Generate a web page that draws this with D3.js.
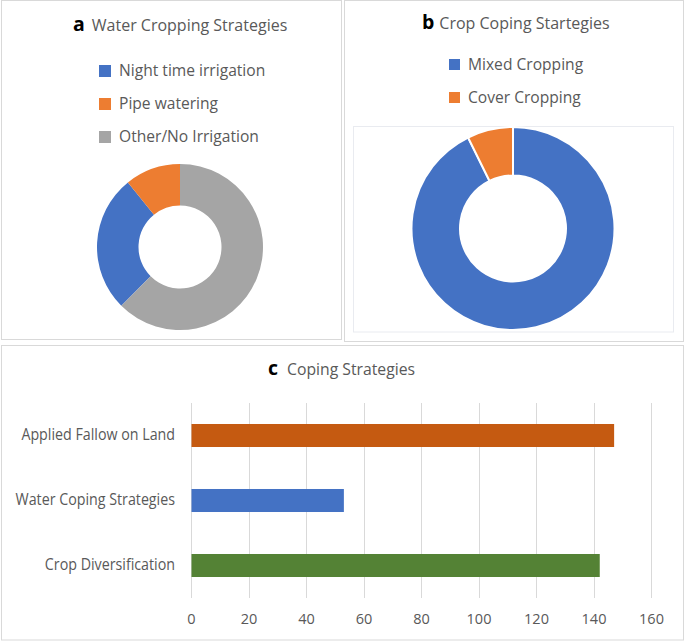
<!DOCTYPE html>
<html>
<head>
<meta charset="utf-8">
<script src="https://cdn.jsdelivr.net/npm/d3@7"></script>
<style>
  html, body { margin: 0; padding: 0; background: #fff; }
  svg text { font-family: "Open Sans", "Noto Sans", sans-serif; }
</style>
</head>
<body>
<svg id="chart" width="685" height="643"></svg>
<script>
// ---- Data ----
const waterCategories = ["Night time irrigation", "Pipe watering", "Other/No Irrigation"];
const waterValues = [26.7, 10.8, 62.5];
const waterColors = ["#4472C4", "#ED7D31", "#A5A5A5"];

const cropCategories = ["Mixed Cropping", "Cover Cropping"];
const cropValues = [92.7, 7.3];
const cropColors = ["#4472C4", "#ED7D31"];

const copingCategories = ["Applied Fallow on Land", "Water Coping Strategies", "Crop Diversification"];
const copingValues = [147, 53, 142];
const copingColors = ["#C55A11", "#4472C4", "#548235"];
const copingTicks = [0, 20, 40, 60, 80, 100, 120, 140, 160];

const svg = d3.select("#chart");
const txtGray = "#595959";
const border = "#D9D9D9";

svg.append("rect").attr("width", 685).attr("height", 643).attr("fill", "#fff");

// Panel frames
svg.append("rect").attr("x", 1.5).attr("y", 0.5).attr("width", 340).attr("height", 339)
  .attr("fill", "none").attr("stroke", border);
svg.append("rect").attr("x", 344.5).attr("y", 0.5).attr("width", 339).attr("height", 341)
  .attr("fill", "none").attr("stroke", border);
svg.append("rect").attr("x", 353.5).attr("y", 126.5).attr("width", 320).attr("height", 205.5)
  .attr("fill", "none").attr("stroke", "#E9EBF0");
svg.append("rect").attr("x", 1.5).attr("y", 345.5).attr("width", 682).attr("height", 294.5)
  .attr("fill", "none").attr("stroke", border);

function title(x, y, letter, text, letterSize, textSize, gap) {
  const t = svg.append("text").attr("x", x).attr("y", y);
  t.append("tspan").text(letter).attr("font-weight", "bold").attr("fill", "#000")
    .attr("font-size", letterSize);
  t.append("tspan").text(text).attr("fill", txtGray).attr("font-size", textSize).attr("dx", gap);
  return t;
}

// ---- Panel a ----
title(73, 31, "a", "Water Cropping Strategies", 19.5, 16, 7);

const legA = svg.append("g");
waterCategories.forEach((c, i) => {
  const yy = 76 + i * 33;
  legA.append("rect").attr("x", 99).attr("y", yy - 11).attr("width", 12).attr("height", 12)
    .attr("fill", waterColors[i]);
  legA.append("text").attr("x", 119).attr("y", yy).attr("font-size", 15.6)
    .attr("fill", txtGray).text(c);
});

const pieA = d3.pie().sort(null).value(d => d)
  .startAngle(Math.PI * 1.25).endAngle(Math.PI * 1.25 + 2 * Math.PI);
const arcA = d3.arc().innerRadius(41.5).outerRadius(83);
svg.append("g").attr("transform", "translate(180,247)")
  .selectAll("path").data(pieA(waterValues)).join("path")
  .attr("d", arcA).attr("fill", (d, i) => waterColors[i]);

// ---- Panel b ----
title(422, 29, "b", "Crop Coping Startegies", 19.5, 16, 5);
const legB = svg.append("g");
cropCategories.forEach((c, i) => {
  const yy = 70 + i * 33;
  legB.append("rect").attr("x", 449).attr("y", yy - 11).attr("width", 11).attr("height", 11)
    .attr("fill", cropColors[i]);
  legB.append("text").attr("x", 468).attr("y", yy).attr("font-size", 15.6)
    .attr("fill", txtGray).text(c);
});
const pieB = d3.pie().sort(null).value(d => d);
const arcB = d3.arc().innerRadius(53).outerRadius(101.5);
svg.append("g").attr("transform", "translate(513,228.5)")
  .selectAll("path").data(pieB(cropValues)).join("path")
  .attr("d", arcB).attr("fill", (d, i) => cropColors[i])
  .attr("stroke", "#fff").attr("stroke-width", 2);

// ---- Panel c ----
const ct = title(268, 375, "c", "Coping Strategies", 19.5, 16.5, 9);
ct.select("tspan:last-child").attr("textLength", 128).attr("lengthAdjust", "spacingAndGlyphs");

const x = d3.scaleLinear().domain([0, 160]).range([191, 651]);
const y = d3.scaleBand().domain(copingCategories).range([403, 598])
  .paddingInner(0.646).paddingOuter(0.323);

const grid = svg.append("g");
grid.selectAll("line").data(copingTicks).join("line")
  .attr("x1", d => Math.round(x(d)) + 0.5).attr("x2", d => Math.round(x(d)) + 0.5)
  .attr("y1", 403).attr("y2", 598)
  .attr("stroke", border).attr("stroke-width", 1);

const xAxis = d3.axisBottom(x).tickValues(copingTicks).tickSize(0).tickPadding(0);
const xg = svg.append("g").attr("transform", "translate(0,611)").call(xAxis);
xg.select(".domain").remove();
xg.selectAll("text").attr("font-size", 14.5).attr("fill", txtGray)
  .attr("font-family", "'Open Sans', sans-serif").attr("dy", "0.92em");

svg.append("g").selectAll("rect").data(copingValues).join("rect")
  .attr("x", x(0) + 0.5)
  .attr("y", (d, i) => y(copingCategories[i]))
  .attr("width", d => x(d) - x(0))
  .attr("height", y.bandwidth())
  .attr("fill", (d, i) => copingColors[i]);

const yAxis = d3.axisLeft(y).tickSize(0).tickPadding(0);
const yg = svg.append("g").attr("transform", "translate(175,0)").call(yAxis);
yg.select(".domain").remove();
yg.selectAll("text").attr("font-size", 15.5).attr("fill", txtGray)
  .attr("font-family", "'Open Sans', sans-serif")
  .attr("x", 0).attr("transform", "scale(0.92,1)");
</script>
</body>
</html>
